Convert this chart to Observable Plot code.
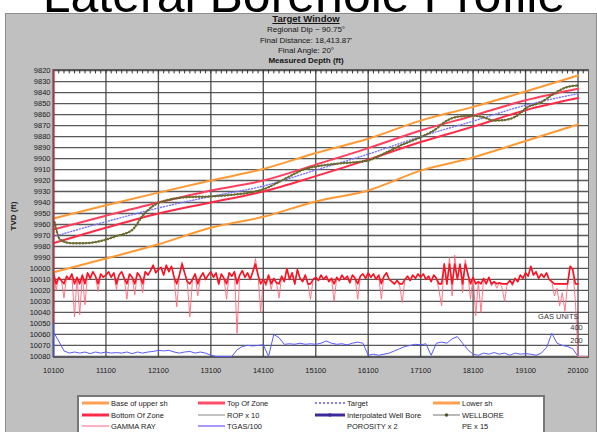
<!DOCTYPE html>
<html><head><meta charset="utf-8">
<script src="https://cdn.jsdelivr.net/npm/d3@7"></script>
<script src="https://cdn.jsdelivr.net/npm/@observablehq/plot@0.6"></script>
<style>
body{margin:0;width:597px;height:432px;overflow:hidden;background:#fff;position:relative;font-family:"Liberation Sans",Arial,sans-serif;}
#panel{position:absolute;left:5px;top:13px;width:592px;height:430px;background:#c0c0c0;border:1px solid #8c8c8c;box-sizing:border-box}
.hdr{position:absolute;left:0;width:612px;text-align:center;color:#151515;font-size:8px;line-height:10px;white-space:nowrap}
#chart{position:absolute;left:0;top:0}
#ylab{position:absolute;left:13px;top:216px;transform:translate(-50%,-50%) rotate(-90deg);font-size:8px;font-weight:bold;color:#222;white-space:nowrap}
#legend{position:absolute;left:77px;top:395px}
#bigtitle{position:absolute;left:0;top:0;width:597px;height:13px;overflow:hidden}
</style></head><body>
<div id="bigtitle"><svg width="597" height="13" style="overflow:hidden;display:block"><text x="304" y="12" text-anchor="middle" font-size="50" font-family="Liberation Sans, Arial, sans-serif" fill="#000">Lateral Borehole Profile</text></svg></div>
<div id="panel"></div>
<div class="hdr" style="top:14px;font-weight:bold;font-size:9.5px;text-decoration:underline">Target Window</div>
<div class="hdr" style="top:25px">Regional Dip ~ 90.75°</div>
<div class="hdr" style="top:35.5px">Final Distance: 18,413.87'</div>
<div class="hdr" style="top:46px">Final Angle: 20°</div>
<div class="hdr" style="top:56px;font-weight:bold">Measured Depth (ft)</div>
<div id="chart"></div>
<div id="ylab">TVD (ft)</div>
<svg id="legend" width="470" height="37"></svg>
<script>
// ---- tick labels ----
const xTicks = [10100, 11100, 12100, 13100, 14100, 15100, 16100, 17100, 18100, 19100, 20100];
const yTicks = [9820, 9830, 9840, 9850, 9860, 9870, 9880, 9890, 9900, 9910, 9920, 9930, 9940, 9950, 9960, 9970, 9980, 9990, 10000, 10010, 10020, 10030, 10040, 10050, 10060, 10070, 10080];
const minorTicks = d3.range(10100, 20300, 100);

// ---- formation / zone lines (MD ft -> TVD ft) ----
const zoneMD = [10100, 11100, 12100, 13100, 14100, 15100, 16100, 17100, 18100, 19100, 20100];
const baseUpperSh = [9954.5, 9942.5, 9931, 9920, 9909.5, 9895, 9882, 9865.5, 9853, 9839, 9824.5];
const topOfZone   = [9964.5, 9952, 9940, 9929, 9920, 9905.5, 9890.5, 9874.5, 9861, 9847, 9836.5];
const targetLine  = [9971, 9957.5, 9945, 9934.5, 9925, 9910.5, 9896, 9880, 9866, 9851.5, 9841];
const bottomOfZone= [9977, 9963, 9950, 9940, 9930, 9916, 9901, 9885, 9871, 9856, 9845];
const lowerSh     = [10003.5, 9991, 9978, 9963, 9953, 9939, 9929, 9911, 9899, 9884, 9869];

// ---- wellbore ----
const wellMD  = [10120, 10230, 10450, 10700, 11000, 11300, 11600, 11800, 12000, 12300, 12700, 13100, 13500, 13900, 14100, 14450, 14900, 15200, 15550, 16080, 16400, 16720, 17100, 17350, 17600, 17800, 18110, 18300, 18500, 18690, 18940, 19130, 19390, 19640, 19890, 20100];
const wellTVD = [9958, 9974, 9977, 9977, 9975, 9970.5, 9965, 9952, 9943, 9937.5, 9935, 9934.5, 9933, 9930.5, 9928, 9920, 9909.5, 9906.5, 9904.5, 9902, 9895.5, 9888, 9880.5, 9874.5, 9865.5, 9862, 9861, 9862.5, 9865.5, 9865, 9861, 9853.5, 9849, 9841, 9835, 9833.5];

// ---- gamma ray trace (plotted in TVD units), every 50 ft MD from 10100 ----
const gammaStartMD = 10100, gammaStepMD = 50;
const gammaTVD = [
 10004, 10020, 10008, 10011, 10027, 10007, 10010, 10005, 10044, 10008,
 10042, 10006, 10033, 10004, 10009, 10003, 10007, 10021, 10005, 10008,
 10006, 10003, 10008, 10004, 10019, 10006, 10003, 10009, 10028, 10005,
 10008, 10024, 10004, 10007, 10022, 10003, 10006, 10002, 9997, 10004,
 10001, 9999, 10006, 9997, 10003, 9998, 10008, 10035, 10006, 9994,
 10004, 10012, 10044, 10010, 10005, 10025, 10008, 10004, 10010, 10006,
 10003, 10008, 10004, 10015, 10005, 10009, 10028, 10004, 10007, 10003,
 10059, 10006, 10002, 10008, 10004, 10010, 10003, 9991, 10006, 10040,
 10010, 10016, 10006, 10019, 10009, 10013, 10027, 10007, 10012, 10000,
 10010, 10004, 10015, 10001, 10009, 10012, 10006, 10014, 10028, 10010,
 10008, 10011, 10006, 10010, 10007, 10012, 10009, 10030, 10008, 10011,
 10006, 10010, 10007, 10013, 10006, 10009, 10028, 10007, 10005, 10009,
 10004, 10008, 10005, 10010, 10006, 10028, 10007, 10004, 10010, 10012,
 10015, 10011, 10016, 10031, 10010, 10007, 10011, 10006, 10009, 10005,
 10008, 10005, 10010, 10007, 10012, 10006, 10009, 10020, 10034, 9995,
 10015, 9990, 10025, 9988, 10010, 9996, 10022, 9992, 10005, 10028,
 10008, 10043, 10012, 10040, 10009, 10014, 10008, 10016, 10012, 10018,
 10013, 10017, 10030, 10014, 10011, 10016, 10009, 10012, 10006, 10009,
 10004, 10007, 9998, 10006, 10003, 10009, 10005, 10008, 10004, 10010,
 10012, 10025, 10018, 10034, 10022, 10039, 10015, 9998, 10001, 10030,
 10080];

// ---- total gas trace (plotted in TVD units), every 100 ft MD from 10100 ----
const gasStartMD = 10100, gasStepMD = 100;
const gasTVD = [
 10058, 10066, 10075, 10077, 10076, 10077, 10076, 10077.5, 10076, 10077,
 10076, 10077, 10076.5, 10077, 10076, 10077.5, 10076, 10077, 10076, 10075.5,
 10074.5, 10075, 10074.5, 10076, 10077, 10076, 10075.5, 10077, 10076, 10077,
 10079, 10080, 10080, 10080, 10080, 10074, 10071, 10070, 10070.5, 10070,
 10069.5, 10080, 10060, 10063, 10069, 10068.5, 10069, 10068, 10069, 10068.5,
 10069, 10068, 10066, 10068, 10069, 10068.5, 10069.5, 10068, 10067, 10068,
 10079, 10078, 10079, 10078, 10077, 10075, 10073, 10071, 10070, 10069,
 10069.5, 10068.5, 10079, 10068, 10067, 10068, 10064, 10062, 10068, 10074,
 10078, 10079, 10077, 10078, 10076.5, 10078, 10077, 10079, 10077, 10078,
 10077.5, 10078, 10079, 10077, 10072, 10059, 10068, 10070, 10071, 10073,
 10080];

// ---- edge traces ----
const edgeRed  = [9819, 10050];
const edgeBlue = [10050, 10081];
const endSegMD = [20100, 20300];
const endSegTVD = [10080.6, 10080.6];

// ---- gas scale annotations ----
const gasLabelText = ["GAS UNITS", "400", "200"];
const gasLabelMD = [20110, 20190, 20190];
const gasLabelTVD = [10043.6, 10053.6, 10066];

// ---- legend ----
const legendLabels = ["Base of upper sh", "Top Of Zone", "Target", "Lower sh",
                      "Bottom Of Zone", "ROP x 10", "Interpolated Well Bore", "WELLBORE",
                      "GAMMA RAY", "TGAS/100", "POROSITY x 2", "PE x 15"];

// build tables
const zoneRows = zoneMD.map((md, i) => ({md, upper: baseUpperSh[i], top: topOfZone[i], target: targetLine[i], bottom: bottomOfZone[i], lower: lowerSh[i]}));
const wellRows = wellMD.map((md, i) => ({md, tvd: wellTVD[i]}));
const gammaRows = gammaTVD.map((v, i) => ({md: gammaStartMD + gammaStepMD * i, tvd: v}));
// main (dense) band of the gamma trace, the excursions beyond it drawn lighter
const gammaBand = gammaRows.map(d => ({md: d.md, tvd: Math.max(9996, Math.min(10014, d.tvd))}));
const gasRows = gasTVD.map((v, i) => ({md: gasStartMD + gasStepMD * i, tvd: v}));
const gasLabels = gasLabelText.map((t, i) => ({t, md: gasLabelMD[i], tvd: gasLabelTVD[i]}));
const endSeg = endSegMD.map((md, i) => ({md, tvd: endSegTVD[i]}));

const ORANGE = "#ff9933", RED = "#ff2a48", REDTOP = "#ff3f5e";

const chart = Plot.plot({
  width: 597, height: 392,
  marginLeft: 53, marginRight: 9, marginTop: 69, marginBottom: 35,
  style: {background: "transparent", fontFamily: "Liberation Sans, Arial, sans-serif", fontSize: "7.5px", color: "#1a1a1a", overflow: "visible"},
  x: {domain: [10100, 20300], ticks: xTicks, tickSize: 0, tickPadding: 10, tickFormat: d => String(d), label: null},
  y: {domain: [9819, 10081], reverse: true, ticks: yTicks, tickSize: 0, tickPadding: 3, tickFormat: d => String(d), label: null},
  marks: [
    Plot.frame({fill: "white", stroke: "none"}),
    Plot.ruleY(yTicks, {stroke: "#3c3c3c", strokeWidth: 1.3, strokeOpacity: 0.85}),
    Plot.ruleX(xTicks, {stroke: "#3c3c3c", strokeWidth: 1.4, strokeOpacity: 0.85}),
    Plot.ruleX(minorTicks, {y1: 9819, y2: 9823, stroke: "#333", strokeWidth: 1}),
    Plot.line(gasRows, {x: "md", y: "tvd", stroke: "#5a5aff", strokeWidth: 1}),
    Plot.line(gammaRows, {x: "md", y: "tvd", stroke: "#ff6a7c", strokeWidth: 0.9}),
    Plot.line(gammaBand, {x: "md", y: "tvd", stroke: "#ff1020", strokeWidth: 1.6}),
    Plot.line(endSeg, {x: "md", y: "tvd", stroke: "#ff8a9a", strokeWidth: 1.5}),
    Plot.line(zoneRows, {x: "md", y: "lower", stroke: ORANGE, strokeWidth: 2, curve: "monotone-x"}),
    Plot.line(zoneRows, {x: "md", y: "upper", stroke: ORANGE, strokeWidth: 2, curve: "monotone-x"}),
    Plot.line(zoneRows, {x: "md", y: "top", stroke: REDTOP, strokeWidth: 2, curve: "monotone-x"}),
    Plot.line(zoneRows, {x: "md", y: "bottom", stroke: RED, strokeWidth: 2, curve: "monotone-x"}),
    Plot.line(zoneRows, {x: "md", y: "target", stroke: "#7a70ff", strokeWidth: 1.4, strokeDasharray: "1,2", curve: "monotone-x"}),
    Plot.line(wellRows, {x: "md", y: "tvd", stroke: "#2e2e18", strokeWidth: 1, curve: "monotone-x"}),
    Plot.line(wellRows, {x: "md", y: "tvd", stroke: "#6e6e2e", strokeWidth: 2.4, strokeDasharray: "0.4,2.8", strokeLinecap: "round", curve: "monotone-x"}),
    Plot.ruleX([10100], {y1: edgeRed[0], y2: edgeRed[1], stroke: "#e0102e", strokeWidth: 2}),
    Plot.ruleX([10100], {y1: edgeBlue[0], y2: edgeBlue[1], stroke: "#4a4aff", strokeWidth: 2}),
    Plot.text(gasLabels, {x: "md", y: "tvd", text: "t", textAnchor: "end", fontSize: 7.5, fill: "#333"}),
    Plot.frame({stroke: "#5a5a5a", strokeWidth: 1})
  ]
});
document.getElementById("chart").appendChild(chart);

// legend
const lg = d3.select("#legend");
lg.append("rect").attr("x", 1).attr("y", 1).attr("width", 466).attr("height", 60)
  .attr("fill", "white").attr("stroke", "#777").attr("stroke-width", 2);
const colX = [5, 121, 238, 356];
const rowY = [8, 20, 31];
const legendStyles = [
  {stroke: "#ffa050", w: 3}, {stroke: "#ff4d6a", w: 3}, {stroke: "#8a7fff", w: 2, dash: "2,2"}, {stroke: "#ffa050", w: 3},
  {stroke: "#ff2a48", w: 3}, {stroke: "#9a9a9a", w: 1.2}, {stroke: "#3c2a9a", w: 3, marker: "#3c2a9a"}, {stroke: "#8a8a8a", w: 1.2, marker: "#4a5a20"},
  {stroke: "#ffb0c0", w: 2}, {stroke: "#a898ff", w: 2}, null, null
];
legendLabels.forEach((lab, i) => {
  const cx = colX[i % 4], cy = rowY[Math.floor(i / 4)];
  const s = legendStyles[i];
  const len = (i % 4 === 2) ? 30 : 27;
  if (s) {
    lg.append("line").attr("x1", cx).attr("x2", cx + len).attr("y1", cy).attr("y2", cy)
      .attr("stroke", s.stroke).attr("stroke-width", s.w).attr("stroke-dasharray", s.dash || null);
    if (s.marker) lg.append("circle").attr("cx", cx + len / 2).attr("cy", cy).attr("r", 1.8).attr("fill", s.marker);
  }
  lg.append("text").attr("x", cx + len + 2).attr("y", cy).attr("dy", "0.35em")
    .attr("font-size", 7.5).attr("font-family", "Liberation Sans, Arial, sans-serif").attr("fill", "#222").text(lab);
});
</script>
</body></html>
